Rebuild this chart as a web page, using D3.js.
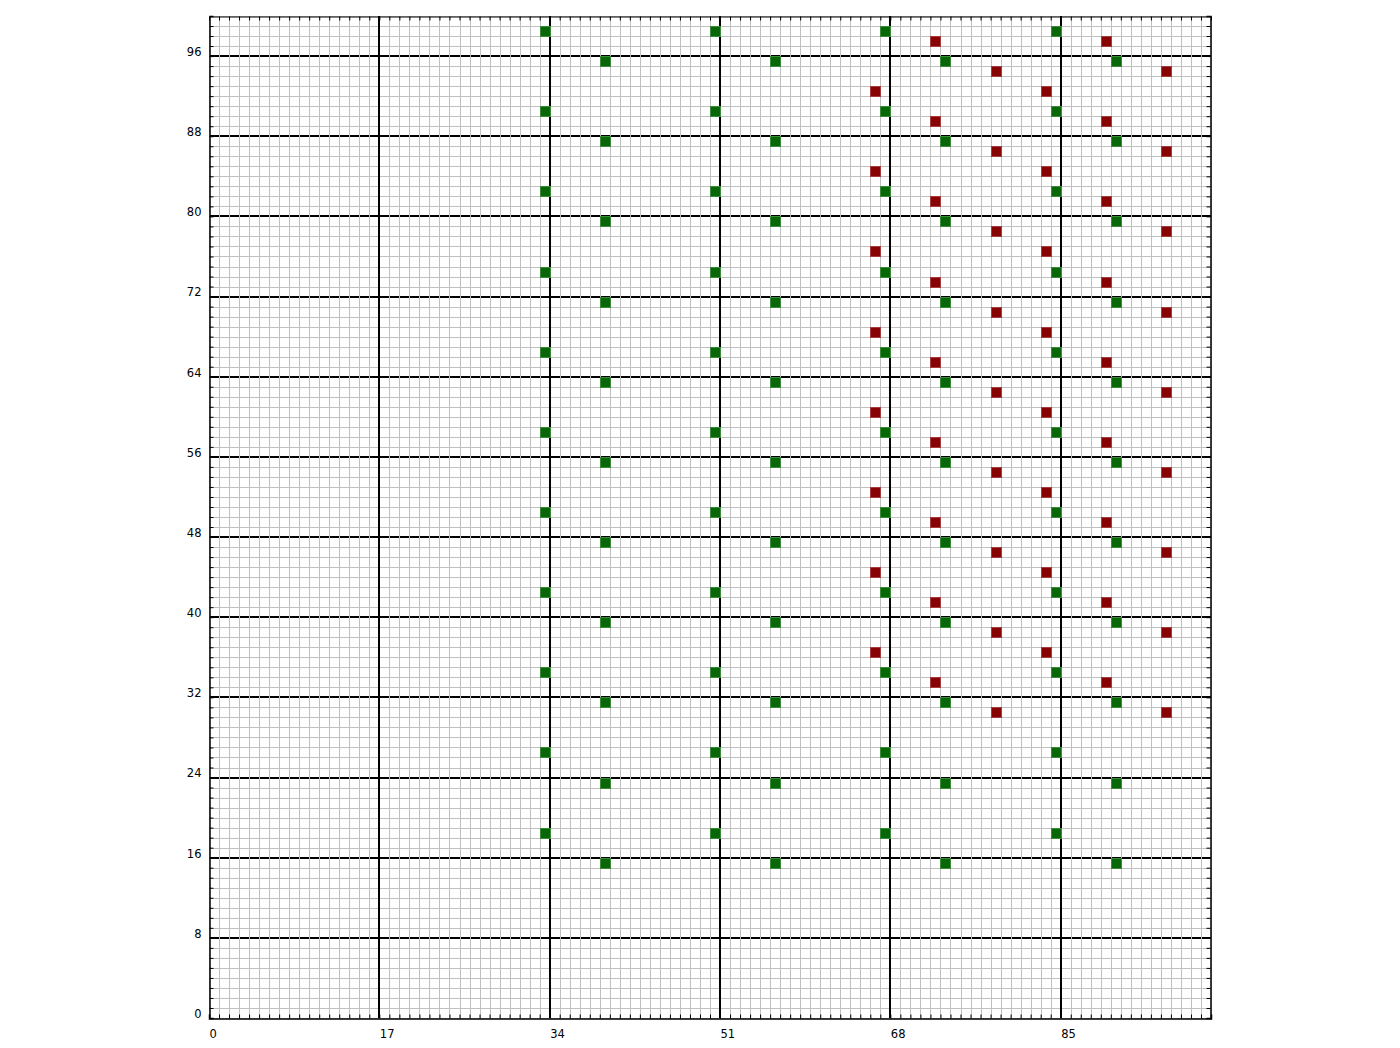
<!DOCTYPE html>
<html>
<head>
<meta charset="utf-8">
<script src="https://cdn.jsdelivr.net/npm/d3@7"></script>
<style>
  html, body { margin: 0; padding: 0; background: #fff; }
  text { font-family: "DejaVu Sans", sans-serif; font-size: 11.5px; fill: #000; }
</style>
</head>
<body>
<svg id="chart" width="1400" height="1048"></svg>
<script>
// ---- data ----
const xMajorTicks = [0, 17, 34, 51, 68, 85];
const yMajorTicks = [0, 8, 16, 24, 32, 40, 48, 56, 64, 72, 80, 88, 96];

// green squares (cell lower-left corners)
const greenColsA = [33, 50, 67, 84];
const greenRowsA = [98, 90, 82, 74, 66, 58, 50, 42, 34, 26, 18];
const greenColsB = [39, 56, 73, 90];
const greenRowsB = [95, 87, 79, 71, 63, 55, 47, 39, 31, 23, 15];

// red squares
const redColsA = [66, 83];
const redRowsA = [92, 84, 76, 68, 60, 52, 44, 36];
const redColsB = [72, 89];
const redRowsB = [97, 89, 81, 73, 65, 57, 49, 41, 33];
const redColsC = [78, 95];
const redRowsC = [94, 86, 78, 70, 62, 54, 46, 38, 30];

function cells(cols, rows) {
  const out = [];
  cols.forEach(c => rows.forEach(r => out.push([c, r])));
  return out;
}
const greenPoints = cells(greenColsA, greenRowsA).concat(cells(greenColsB, greenRowsB));
const redPoints = cells(redColsA, redRowsA).concat(cells(redColsB, redRowsB), cells(redColsC, redRowsC));

// ---- layout ----
const svg = d3.select("#chart");
const L = 209, R = 1211, T = 16, B = 1018;
const x = d3.scaleLinear().domain([0, 100]).range([L, R]);
const y = d3.scaleLinear().domain([0, 100]).range([B, T]);
const units = d3.range(0, 101);

const g = svg.append("g");

// minor horizontal grid
g.append("g").selectAll("line").data(units).join("line")
  .attr("x1", L).attr("x2", R)
  .attr("y1", d => Math.round(y(d)) + 0.5).attr("y2", d => Math.round(y(d)) + 0.5)
  .attr("stroke", "#c0c0c0").attr("stroke-width", 1);

// major horizontal lines
g.append("g").selectAll("line").data(yMajorTicks.filter(d => d > 0)).join("line")
  .attr("x1", L).attr("x2", R)
  .attr("y1", d => Math.round(y(d))).attr("y2", d => Math.round(y(d)))
  .attr("stroke", "#000").attr("stroke-width", 2);

// minor vertical grid
g.append("g").selectAll("line").data(units).join("line")
  .attr("y1", T).attr("y2", B)
  .attr("x1", d => Math.round(x(d)) + 0.5).attr("x2", d => Math.round(x(d)) + 0.5)
  .attr("stroke", "#c0c0c0").attr("stroke-width", 1);

// major vertical lines
g.append("g").selectAll("line").data(xMajorTicks.filter(d => d > 0)).join("line")
  .attr("y1", T).attr("y2", B)
  .attr("x1", d => Math.round(x(d))).attr("x2", d => Math.round(x(d)))
  .attr("stroke", "#000").attr("stroke-width", 2);

// squares
function drawCells(data, color, edge) {
  g.append("g").selectAll("rect").data(data).join("rect")
    .attr("x", d => Math.round(x(d[0])) + 1)
    .attr("y", d => Math.round(y(d[1] + 1)) + 1)
    .attr("width", d => Math.round(x(d[0] + 1)) - Math.round(x(d[0])))
    .attr("height", d => Math.round(y(d[1])) - Math.round(y(d[1] + 1)))
    .attr("fill", color)
    .attr("stroke", edge).attr("stroke-width", 1)
    .attr("transform", "translate(-0.5,-0.5)");
}
drawCells(greenPoints, "#086808", "#3a8a3a");
drawCells(redPoints, "#880404", "#a43c3c");

// axes
const fmtX = d => xMajorTicks.includes(d) ? d : "";
const fmtY = d => yMajorTicks.includes(d) ? d : "";

const xAxis = svg.append("g").attr("transform", `translate(0,${B + 0.5})`)
  .call(d3.axisBottom(x).tickValues(units.slice(0, 100)).tickSize(-4).tickPadding(0).tickFormat(fmtX));
xAxis.select(".domain").attr("stroke", "#000").attr("stroke-width", 1.5);
xAxis.selectAll("text").attr("text-anchor", "start").attr("dx", 0).attr("y", 19).attr("dy", 0)
  .style("font-family", '"DejaVu Sans", sans-serif').style("font-size", "11.5px");

const yAxis = svg.append("g").attr("transform", `translate(${L + 0.5},0)`)
  .call(d3.axisLeft(y).tickValues(units.slice(0, 100)).tickSize(-4).tickPadding(0).tickFormat(fmtY));
yAxis.select(".domain").attr("stroke", "#000").attr("stroke-width", 1.5);
yAxis.selectAll("text").attr("text-anchor", "end").attr("x", -8).attr("dy", "-0.05em")
  .style("font-family", '"DejaVu Sans", sans-serif').style("font-size", "11.5px");

const topAxis = svg.append("g").attr("transform", `translate(0,${T + 0.5})`)
  .call(d3.axisTop(x).tickValues(units.slice(1, 100)).tickSize(-4).tickFormat(""));
topAxis.select(".domain").attr("stroke", "#000").attr("stroke-width", 1);

const rightAxis = svg.append("g").attr("transform", `translate(${R - 0.5},0)`)
  .call(d3.axisRight(y).tickValues(units.slice(1, 100)).tickSize(-4).tickFormat(""));
rightAxis.select(".domain").attr("stroke", "#000").attr("stroke-width", 1.5);

svg.selectAll(".tick line").attr("stroke", "#000");
</script>
</body>
</html>
